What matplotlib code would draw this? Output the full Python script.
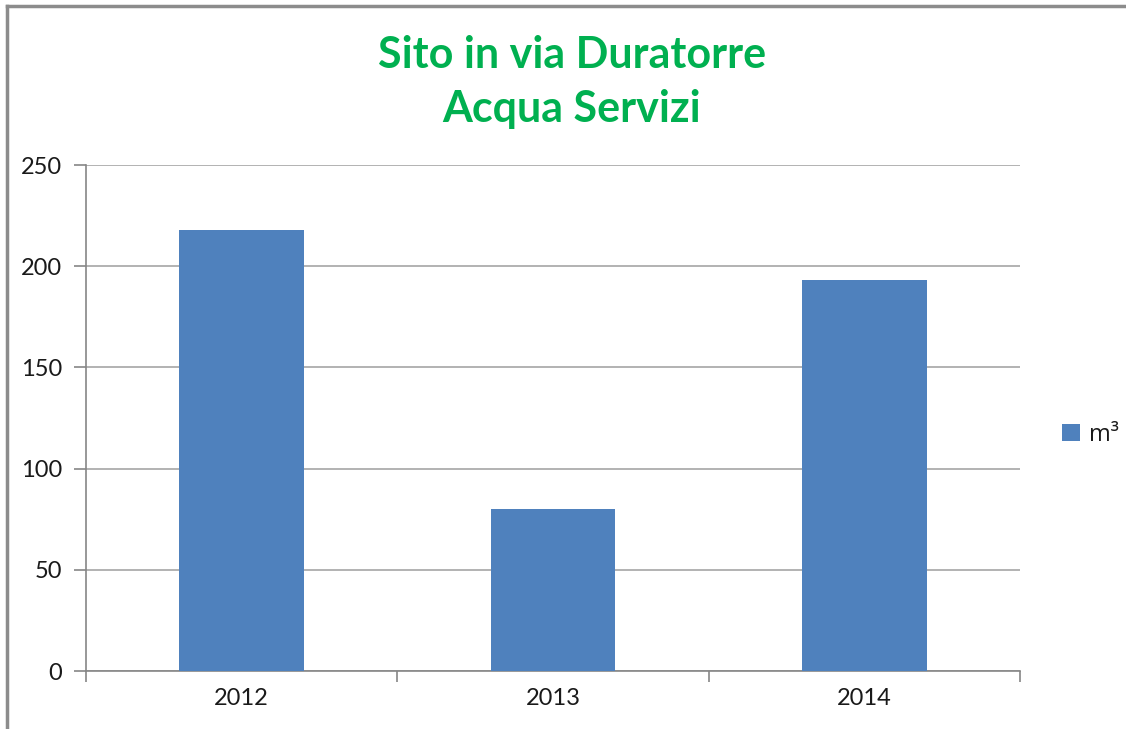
import matplotlib
matplotlib.use("Agg")
import matplotlib.pyplot as plt
from matplotlib.lines import Line2D

# data
years = ["2012", "2013", "2014"]
volumes = [218, 80, 193]
series_name = "m³"
yticks = [0, 50, 100, 150, 200, 250]

bar_color = "#4F81BD"
title_color = "#00B050"
grid_color = "#A6A6A6"
axis_color = "#868686"

plt.rcParams['font.family'] = ['Lato', 'DejaVu Sans']

fig = plt.figure(figsize=(11.26, 7.29), dpi=100)
ax = fig.add_axes([86 / 1126, 58 / 729, 934 / 1126, 506 / 729])

x = list(range(len(years)))
ax.bar(x, volumes, width=0.4, color=bar_color, label=series_name, zorder=3)

ax.set_xlim(-0.5, len(years) - 0.5)
ax.set_ylim(0, 250)
ax.set_yticks(yticks)
ax.set_yticklabels([str(v) for v in yticks])
ax.set_xticks(x)
ax.set_xticklabels(years)
ax.set_xticks([i - 0.5 for i in range(len(years) + 1)], minor=True)

ax.yaxis.grid(True, color=grid_color, linewidth=1.2, zorder=0)
ax.set_axisbelow(True)

for side in ["top", "right"]:
    ax.spines[side].set_visible(False)
for side in ["left", "bottom"]:
    ax.spines[side].set_color(axis_color)
    ax.spines[side].set_linewidth(1.2)

ax.tick_params(axis="y", length=9, width=1.2, color=axis_color, pad=8,
               labelsize=17, labelcolor="#1a1a1a")
ax.tick_params(axis="x", which="major", length=0, pad=12,
               labelsize=17, labelcolor="#1a1a1a")
ax.tick_params(axis="x", which="minor", length=8, width=1.2, color=axis_color)

fig.text(572 / 1126, 1 - 82 / 729, "Sito in via Duratorre\nAcqua Servizi",
         ha="center", va="center", fontsize=31, fontweight="bold",
         color=title_color, linespacing=1.43)

leg = fig.legend(loc="center left", bbox_to_anchor=(1062 / 1126, 1 - 435 / 729),
                 frameon=False, handlelength=0.75, handleheight=0.75,
                 handletextpad=0.4, borderpad=0, borderaxespad=0,
                 prop={'family': ['Open Sans', 'DejaVu Sans'], 'size': 17})
for t in leg.get_texts():
    t.set_color("#1a1a1a")

# outer chart frame: only the left and top edges fall inside the picture
frame_x = 7 / 1126
frame_y = 1 - 6 / 729
fig.add_artist(Line2D([frame_x, frame_x], [0, frame_y], transform=fig.transFigure,
                      color="#8C8C8C", linewidth=2.5))
fig.add_artist(Line2D([frame_x, 1], [frame_y, frame_y], transform=fig.transFigure,
                      color="#8C8C8C", linewidth=2.5))

fig.savefig("out.png", dpi=100)
